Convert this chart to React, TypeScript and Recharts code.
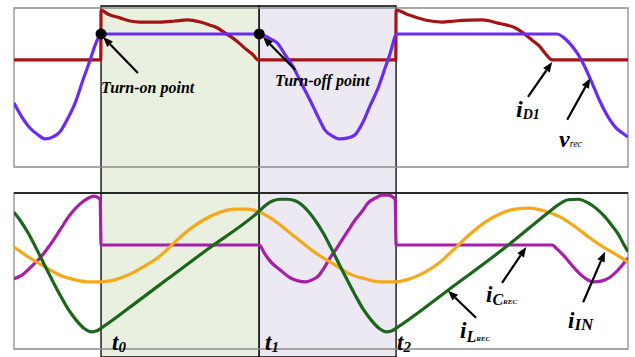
import {
  ComposedChart,
  Line,
  XAxis,
  YAxis,
  ReferenceArea,
  ReferenceLine,
  ReferenceDot,
} from "recharts"

const W = 635
const H = 357

// time axis in µs, t0 = 0
const T_MIN = -2.95
const T_MAX = 17.86
const T0 = 0
const T1 = 5.36
const T2 = 10

// top panel: rectified voltage and diode current (normalised)
const vrecT = [
  -2.95, -2.68, -2.41, -2.14, -1.9, -1.63, -1.39, -1.15, -0.88, -0.61, -0.37, -0.17, 0,
  5.36, 5.56, 5.76, 5.97, 6.24, 6.51, 6.78, 7.08, 7.36, 7.59, 7.83, 8.1,
  8.37, 8.61, 8.85, 9.12, 9.39, 9.63, 9.8, 9.9, 10,
  15.46, 15.66, 15.9, 16.14, 16.37, 16.64, 16.92, 17.19, 17.46, 17.66, 17.86,
]
const vrec = [
  -0.83, -1.1, -1.31, -1.44, -1.52, -1.48, -1.38, -1.15, -0.83, -0.38, 0, 0.33, 0.5,
  0.5, 0.46, 0.4, 0.33, 0.1, -0.13, -0.44, -0.77, -1.1, -1.35, -1.46, -1.52,
  -1.5, -1.44, -1.23, -0.88, -0.54, -0.15, 0.13, 0.33, 0.5,
  0.5, 0.44, 0.31, 0.13, -0.1, -0.44, -0.81, -1.1, -1.31, -1.4, -1.48,
]

const iD1T = [
  -2.95, -0.01,
  0, 0.24, 0.64, 0.98, 1.32, 2.0, 2.51, 2.92, 3.36, 3.69, 3.93, 4.2, 4.47, 4.71, 4.95, 5.15, 5.32,
  9.99, 10, 10.41, 10.98, 11.56, 12.0, 12.92, 13.46, 13.76, 14.03, 14.31, 14.61, 14.85, 15.05, 15.29,
  17.86,
]
const iD1 = [
  0, 0,
  0.96, 0.88, 0.81, 0.75, 0.73, 0.73, 0.75, 0.77, 0.73, 0.67, 0.62, 0.52, 0.42, 0.31, 0.19, 0.1, 0,
  0, 0.96, 0.87, 0.77, 0.73, 0.75, 0.77, 0.71, 0.67, 0.62, 0.52, 0.38, 0.27, 0.13, 0,
  0,
]

// bottom panel: capacitor, input and inductor currents (normalised)
const iCrecT = [
  -2.95, -2.68, -2.41, -2.07, -1.73, -1.39, -1.05, -0.71, -0.44, -0.24, -0.03, 0,
  5.36, 5.53, 5.73, 6.07, 6.41, 6.68, 6.92, 7.15, 7.36, 7.56, 7.76, 7.97, 8.17, 8.41, 8.61,
  8.85, 9.05, 9.29, 9.53, 9.73, 9.9, 9.97, 10,
  15.29, 15.46, 15.66, 15.9, 16.17, 16.44, 16.71, 16.98, 17.25, 17.49, 17.69, 17.86,
]
const iCrec = [
  -0.65, -0.58, -0.44, -0.25, 0, 0.29, 0.58, 0.79, 0.9, 0.94, 0.88, 0,
  0, -0.15, -0.31, -0.48, -0.63, -0.69, -0.71, -0.67, -0.6, -0.44, -0.25, -0.08, 0.1, 0.31, 0.48,
  0.65, 0.81, 0.9, 0.96, 0.96, 0.92, 0.88, 0,
  0, -0.08, -0.19, -0.35, -0.52, -0.65, -0.71, -0.69, -0.62, -0.5, -0.37, -0.25,
]

const iInT = [
  -2.95, -2.41, -1.9, -1.39, -0.88, -0.37, -0.03, 0.47, 0.98, 1.49, 2.0, 2.51, 3.02, 3.53,
  4.03, 4.54, 4.98, 5.39, 5.9, 6.41, 6.92, 7.42, 7.93, 8.44, 8.95, 9.46, 9.97, 10.47,
  10.98, 11.49, 12.0, 12.51, 13.02, 13.53, 14.03, 14.54, 15.05, 15.56, 16.07, 16.58,
  17.08, 17.53, 17.86,
]
const iIn = [
  -0.04, -0.25, -0.42, -0.58, -0.67, -0.71, -0.71, -0.67, -0.56, -0.4, -0.21, 0.06, 0.31, 0.5,
  0.63, 0.69, 0.69, 0.63, 0.46, 0.23, 0, -0.21, -0.38, -0.56, -0.65, -0.71, -0.71, -0.65,
  -0.52, -0.33, -0.06, 0.21, 0.44, 0.6, 0.69, 0.71, 0.65, 0.54, 0.35, 0.13,
  -0.06, -0.21, -0.33,
]

const iLrecT = [
  -2.95, -2.75, -2.47, -2.2, -1.93, -1.66, -1.39, -1.12, -0.85, -0.58, -0.31, -0.14, 0,
  1.32, 2.24, 3.59, 5.32,
  5.59, 5.83, 6.07, 6.31, 6.58, 6.81, 7.05, 7.25, 7.53, 7.8, 8.07, 8.34, 8.61, 8.88, 9.15,
  9.42, 9.69, 9.86, 10,
  11.76, 13.76, 15.15, 15.49, 15.83, 16.17, 16.51, 16.81, 17.08, 17.32, 17.53, 17.69, 17.86,
]
const iLrec = [
  0.63, 0.48, 0.23, -0.06, -0.37, -0.67, -0.96, -1.23, -1.44, -1.6, -1.67, -1.65, -1.6,
  -1.05, -0.66, -0.09, 0.63,
  0.77, 0.85, 0.88, 0.88, 0.85, 0.77, 0.63, 0.48, 0.23, -0.06, -0.37, -0.67, -0.96, -1.23, -1.44,
  -1.6, -1.67, -1.65, -1.6,
  -0.87, -0.02, 0.62, 0.77, 0.87, 0.88, 0.81, 0.69, 0.54, 0.37, 0.21, 0.04, -0.13,
]

const rows = (t: number[], v: number[]) => t.map((x, i) => ({ t: x, v: v[i] }))

const TOP_Y: [number, number] = [-2.06, 1]
const BOT_Y: [number, number] = [-2, 1]

// annotation arrows: [tail, head] in (t, value)
const topArrows = [
  [[1.25, -0.25], [0.07, 0.44]],
  [[6.58, -0.19], [5.49, 0.44]],
  [[14.47, -0.71], [15.29, -0.04]],
  [[15.8, -1.15], [16.58, -0.35]],
]
const botArrows = [
  [[13.59, -0.73], [14.41, -0.04]],
  [[12.71, -1.4], [11.76, -0.88]],
  [[16.34, -1.1], [17.08, -0.13]],
]

const RED = "#a51414"
const VIOLET = "#6a2cf5"
const MAGENTA = "#a61fa6"
const ORANGE = "#f5a818"
const GREEN = "#1b661b"
const BORDER = "#8c8c8c"
const serif = "'Liberation Serif', 'Times New Roman', serif"

function Arrow(props: any) {
  const { x1, y1, x2, y2 } = props
  const dx = x2 - x1
  const dy = y2 - y1
  const len = Math.hypot(dx, dy) || 1
  const ux = dx / len
  const uy = dy / len
  const head = 10
  const half = 4
  const bx = x2 - ux * head
  const by = y2 - uy * head
  return (
    <g>
      <line x1={x1} y1={y1} x2={bx} y2={by} stroke="#000" strokeWidth={2.2} />
      <polygon
        points={`${x2},${y2} ${bx - uy * half},${by + ux * half} ${bx + uy * half},${by - ux * half}`}
        fill="#000"
      />
    </g>
  )
}

const layer: React.CSSProperties = { position: "absolute", left: 0, top: 0 }

function arrowLines(arrows: number[][][]) {
  return arrows.map((a, i) => (
    <ReferenceLine
      key={i}
      segment={[
        { x: a[0][0], y: a[0][1] },
        { x: a[1][0], y: a[1][1] },
      ]}
      shape={Arrow}
    />
  ))
}

export default function App() {
  return (
    <div style={{ ...layer, width: W, height: H, background: "#fff" }}>
      {/* commutation intervals */}
      <div style={layer}>
        <ComposedChart width={W} height={H} margin={{ top: 6, right: 7, bottom: 0, left: 14 }}>
          <XAxis type="number" dataKey="t" domain={[T_MIN, T_MAX]} hide allowDataOverflow />
          <YAxis type="number" domain={[0, 1]} hide allowDataOverflow />
          <ReferenceArea x1={T0} x2={T1} y1={0} y2={1} fill="#e9f0df" fillOpacity={1} stroke="#000" strokeWidth={1.3} />
          <ReferenceArea x1={T1} x2={T2} y1={0} y2={1} fill="#ece9f2" fillOpacity={1} stroke="#000" strokeWidth={1.3} />
        </ComposedChart>
      </div>

      {/* vrec and iD1 */}
      <div style={layer}>
        <ComposedChart width={W} height={H} margin={{ top: 8, right: 7, bottom: 190, left: 14 }}>
          <XAxis type="number" dataKey="t" domain={[T_MIN, T_MAX]} hide allowDataOverflow />
          <YAxis type="number" domain={TOP_Y} hide allowDataOverflow />
          <ReferenceArea x1={T_MIN} x2={T_MAX} y1={TOP_Y[0]} y2={TOP_Y[1]} fill="none" stroke={BORDER} strokeWidth={1.3} />
          <Line data={rows(iD1T, iD1)} dataKey="v" type="monotone" stroke={RED} strokeWidth={3.2} dot={false} isAnimationActive={false} />
          <Line data={rows(vrecT, vrec)} dataKey="v" type="monotone" stroke={VIOLET} strokeWidth={3.2} dot={false} isAnimationActive={false} />
          <ReferenceDot x={T0} y={0.5} r={5.5} fill="#000" stroke="none" />
          <ReferenceDot x={T1} y={0.5} r={5.5} fill="#000" stroke="none" />
          {arrowLines(topArrows)}
        </ComposedChart>
      </div>

      {/* iCrec, iIN and iLrec */}
      <div style={layer}>
        <ComposedChart width={W} height={H} margin={{ top: 193, right: 7, bottom: 8, left: 14 }}>
          <XAxis type="number" dataKey="t" domain={[T_MIN, T_MAX]} hide allowDataOverflow />
          <YAxis type="number" domain={BOT_Y} hide allowDataOverflow />
          <ReferenceArea x1={T_MIN} x2={T_MAX} y1={BOT_Y[0]} y2={BOT_Y[1]} fill="none" stroke={BORDER} strokeWidth={1.3} />
          <ReferenceLine y={BOT_Y[1]} stroke="#000" strokeWidth={1.3} />
          <Line data={rows(iCrecT, iCrec)} dataKey="v" type="monotone" stroke={MAGENTA} strokeWidth={3.2} dot={false} isAnimationActive={false} />
          <Line data={rows(iInT, iIn)} dataKey="v" type="monotone" stroke={ORANGE} strokeWidth={3.2} dot={false} isAnimationActive={false} />
          <Line data={rows(iLrecT, iLrec)} dataKey="v" type="monotone" stroke={GREEN} strokeWidth={3.2} dot={false} isAnimationActive={false} />
          {arrowLines(botArrows)}
        </ComposedChart>
      </div>

      <svg
        width={W}
        height={H}
        style={{ ...layer, pointerEvents: "none" }}
        fontFamily={serif}
        fontWeight="bold"
        fontStyle="italic"
        fill="#000"
      >
        <text x={101} y={93} fontSize={16}>Turn-on point</text>
        <text x={275} y={86} fontSize={16}>Turn-off point</text>

        <text x={516} y={117} fontSize={24}>
          i<tspan fontSize={14} dy={2}>D1</tspan>
        </text>
        <text x={559} y={147} fontSize={24}>
          v<tspan fontSize={10} fontWeight="normal">rec</tspan>
        </text>

        <text x={486} y={302} fontSize={23}>
          i<tspan fontSize={16} dy={3}>C</tspan>
          <tspan fontSize={7} dy={-1}>REC</tspan>
        </text>
        <text x={460} y={338} fontSize={23}>
          i<tspan fontSize={16} dy={4}>L</tspan>
          <tspan fontSize={7} dy={-1}>REC</tspan>
        </text>
        <text x={568} y={328} fontSize={23}>
          i<tspan fontSize={17} dy={2}>IN</tspan>
        </text>

        <text x={112} y={350} fontSize={23}>
          t<tspan fontSize={15} dy={2}>0</tspan>
        </text>
        <text x={265} y={350} fontSize={23}>
          t<tspan fontSize={15} dy={2}>1</tspan>
        </text>
        <text x={397} y={350} fontSize={23}>
          t<tspan fontSize={15} dy={2}>2</tspan>
        </text>
      </svg>
    </div>
  )
}
